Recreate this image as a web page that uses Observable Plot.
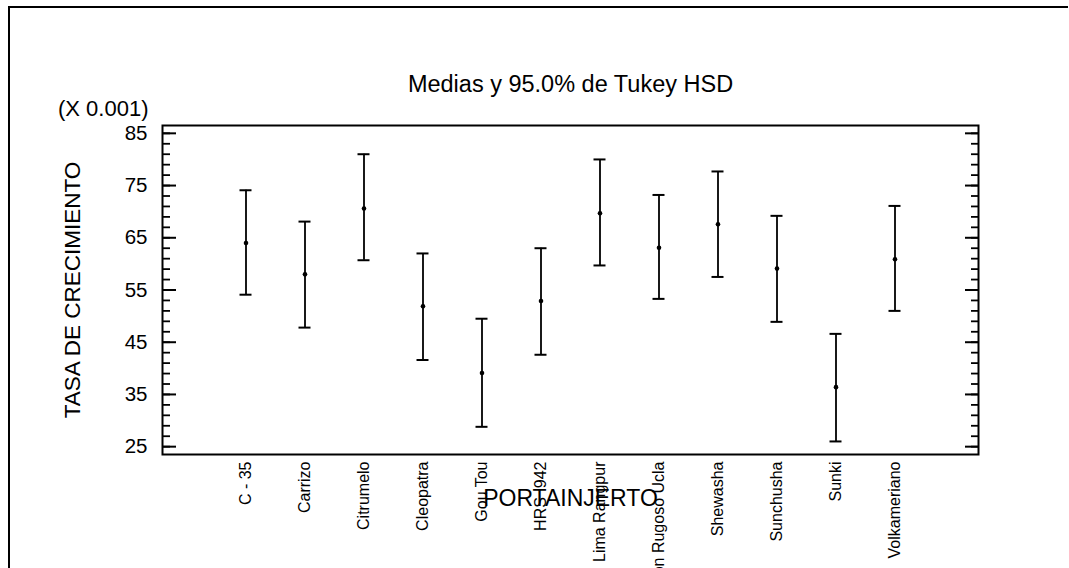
<!DOCTYPE html>
<html><head><meta charset="utf-8">
<script src="https://cdn.jsdelivr.net/npm/d3@7"></script>
<script src="https://cdn.jsdelivr.net/npm/@observablehq/plot@0.6"></script>
<style>
body{margin:0;background:#fff;}
#wrap{position:relative;width:1069px;height:568px;overflow:hidden;background:#fff;font-family:"Liberation Sans",Arial,sans-serif;}
#border{position:absolute;left:8px;top:6px;width:1058px;height:620px;border-left:2px solid #000;border-top:2px solid #000;}
#chart{position:absolute;left:0;top:0;}
</style></head><body>
<div id="wrap"><div id="chart"></div><div id="border"></div></div>
<script>
const names = ["C - 35","Carrizo","Citrumelo","Cleopatra","Gou Tou","HRS  942","Lima Rangpur","Limón Rugoso Ucla","Shewasha","Sunchusha","Sunki","Volkameriano"];
const means = [64.0, 58.0, 70.6, 51.9, 39.1, 52.9, 69.7, 63.1, 67.6, 59.1, 36.4, 60.9];
const lower = [54.1, 47.8, 60.7, 41.6, 28.8, 42.6, 59.7, 53.3, 57.5, 48.9, 26.0, 51.0];
const upper = [74.1, 68.1, 81.0, 62.0, 49.5, 63.0, 80.0, 73.2, 77.7, 69.2, 46.6, 71.1];
const majorTicks = [25, 35, 45, 55, 65, 75, 85];
const minorTicks = [25,27,29,31,33,35,37,39,41,43,45,47,49,51,53,55,57,59,61,63,65,67,69,71,73,75,77,79,81,83,85];
const title = "Medias y 95.0% de Tukey HSD";
const scaleNote = "(X 0.001)";
const yTitle = "TASA DE CRECIMIENTO";
const xTitle = "PORTAINJERTO";

const data = names.map((name, i) => ({name, mean: means[i], lo: lower[i], hi: upper[i]}));
const font = "Liberation Sans, Arial, sans-serif";

const chart = Plot.plot({
  width: 1069, height: 568,
  marginLeft: 162, marginRight: 91, marginTop: 125, marginBottom: 114,
  style: {fontFamily: font, background: "transparent", color: "#000"},
  x: {type: "band", domain: names, paddingInner: 0, paddingOuter: 0.885},
  y: {domain: [23.5, 86.5]},
  marks: [
    Plot.frame({stroke: "#000", strokeWidth: 2}),
    Plot.axisY({ticks: minorTicks, anchor: "left", tickSize: 8, dx: 8, fill: "none", label: null, strokeWidth: 1.8}),
    Plot.axisY({ticks: majorTicks, anchor: "left", tickSize: 14, dx: 14, fill: "none", label: null, strokeWidth: 2}),
    Plot.axisY({ticks: minorTicks, anchor: "right", tickSize: 8, dx: -8, fill: "none", label: null, strokeWidth: 1.8}),
    Plot.axisY({ticks: majorTicks, anchor: "right", tickSize: 14, dx: -14, fill: "none", label: null, strokeWidth: 2}),
    Plot.axisY({ticks: majorTicks, anchor: "left", tickSize: 0, tickPadding: 15, fontSize: 20.5, label: null}),
    Plot.axisX({tickSize: 0, tickPadding: 7, tickRotate: -90, fontSize: 16, label: null}),
    Plot.ruleX(data, {x: "name", y1: "lo", y2: "hi", stroke: "#000", strokeWidth: 1.8}),
    Plot.tickY(data, {x: "name", y: "lo", insetLeft: 23.5, insetRight: 23.5, stroke: "#000", strokeWidth: 2}),
    Plot.tickY(data, {x: "name", y: "hi", insetLeft: 23.5, insetRight: 23.5, stroke: "#000", strokeWidth: 2}),
    Plot.dot(data, {x: "name", y: "mean", r: 2.3, fill: "#000", stroke: null}),
    Plot.text([title], {text: d => d, frameAnchor: "top", dy: -34, lineAnchor: "bottom", fontSize: 23.5, fill: "#000"}),
    Plot.text([scaleNote], {text: d => d, frameAnchor: "top-left", textAnchor: "end", dx: -14, dy: -10, lineAnchor: "bottom", fontSize: 22, fill: "#000"}),
    Plot.text([yTitle], {text: d => d, frameAnchor: "left", textAnchor: "middle", rotate: -90, dx: -90, lineAnchor: "middle", fontSize: 22.5, fill: "#000"}),
    Plot.text([xTitle], {text: d => d, frameAnchor: "bottom", textAnchor: "middle", dy: 51, lineAnchor: "bottom", fontSize: 23, fill: "#000"})
  ]
});
document.getElementById("chart").appendChild(chart);
</script>
</body></html>
